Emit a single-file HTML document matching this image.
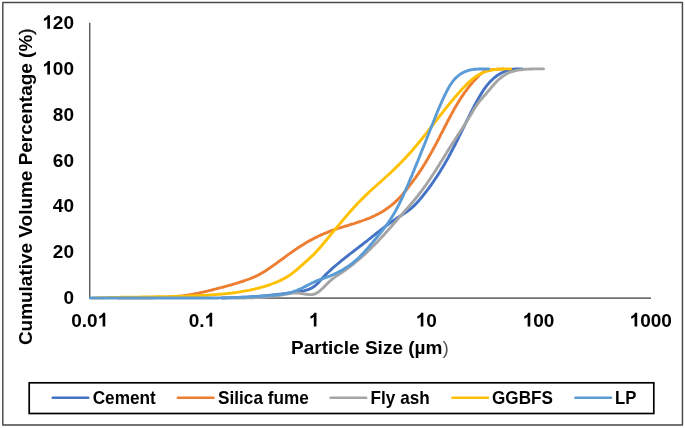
<!DOCTYPE html>
<html><head><meta charset="utf-8"><title>Chart</title>
<style>
html,body{margin:0;padding:0;background:#fff;}
body{width:685px;height:428px;overflow:hidden;}
svg{display:block;will-change:transform;}
text{font-family:"Liberation Sans",sans-serif;font-weight:bold;font-size:19.0px;fill:#000;}
.curves path{fill:none;stroke-width:2.9;stroke-linecap:round;stroke-linejoin:round;}
</style></head><body>
<svg width="685" height="428" viewBox="0 0 685 428">
<rect x="0" y="0" width="685" height="428" fill="#fff"/>
<rect x="2.8" y="2.5" width="679.65" height="422.45" fill="none" stroke="#474747" stroke-width="1.45" stroke-linejoin="round"/>
<line x1="89.73" y1="22.8" x2="89.73" y2="297.6" stroke="#5e5e5e" stroke-width="1.45"/>
<line x1="89.0" y1="298.1" x2="651" y2="298.1" stroke="#707070" stroke-width="1.7"/>
<g class="curves">
<path d="M222.0 298.0 L223.5 298.0 L225.0 298.0 L226.5 297.9 L228.0 297.9 L229.5 297.9 L231.0 297.8 L232.5 297.8 L234.0 297.7 L235.5 297.7 L237.0 297.6 L238.5 297.5 L240.0 297.5 L241.5 297.4 L243.0 297.3 L244.5 297.3 L246.0 297.2 L247.5 297.1 L249.0 297.0 L250.5 296.9 L252.0 296.8 L253.5 296.7 L255.0 296.6 L256.5 296.5 L258.0 296.4 L259.5 296.2 L261.0 296.1 L262.4 296.0 L263.9 295.9 L265.4 295.7 L266.9 295.6 L268.4 295.4 L269.9 295.3 L271.4 295.2 L272.9 295.0 L274.4 294.8 L275.9 294.7 L277.3 294.5 L278.8 294.3 L280.3 294.2 L281.8 294.0 L283.3 293.8 L284.8 293.6 L286.3 293.4 L287.7 293.2 L289.2 293.0 L290.7 292.8 L292.2 292.6 L293.7 292.4 L295.2 292.2 L296.7 291.9 L298.2 291.7 L299.7 291.5 L301.2 291.2 L302.7 291.0 L304.2 290.7 L305.6 290.3 L307.1 289.9 L308.5 289.5 L309.8 288.9 L311.1 288.3 L312.4 287.6 L313.6 286.8 L314.8 286.0 L315.9 285.0 L317.0 284.0 L318.1 282.9 L319.1 281.8 L320.1 280.6 L321.1 279.5 L322.1 278.4 L323.2 277.3 L324.2 276.2 L325.3 275.1 L326.3 274.1 L327.4 273.0 L328.5 272.0 L329.6 271.0 L330.7 269.9 L331.8 268.9 L332.9 267.9 L334.0 266.9 L335.2 266.0 L336.3 265.0 L337.5 264.0 L338.6 263.1 L339.8 262.1 L340.9 261.1 L342.1 260.2 L343.2 259.3 L344.4 258.3 L345.6 257.4 L346.8 256.5 L347.9 255.6 L349.1 254.6 L350.3 253.7 L351.5 252.8 L352.7 251.9 L353.9 251.0 L355.1 250.1 L356.3 249.2 L357.5 248.2 L358.7 247.3 L359.8 246.4 L361.0 245.5 L362.2 244.6 L363.4 243.7 L364.6 242.7 L365.8 241.8 L367.0 240.9 L368.1 240.0 L369.3 239.0 L370.5 238.1 L371.7 237.1 L372.8 236.2 L374.0 235.3 L375.2 234.3 L376.3 233.4 L377.5 232.5 L378.7 231.6 L379.9 230.6 L381.1 229.7 L382.2 228.8 L383.4 227.9 L384.6 227.0 L385.8 226.1 L387.0 225.2 L388.2 224.3 L389.4 223.4 L390.6 222.5 L391.9 221.7 L393.1 220.8 L394.3 220.0 L395.6 219.1 L396.8 218.3 L398.1 217.4 L399.3 216.6 L400.6 215.8 L401.9 215.0 L403.2 214.1 L404.4 213.3 L405.7 212.5 L406.9 211.6 L408.2 210.7 L409.4 209.8 L410.5 208.9 L411.7 207.9 L412.8 206.9 L413.9 205.9 L414.9 204.9 L416.0 203.8 L417.0 202.7 L418.0 201.6 L419.0 200.5 L419.9 199.4 L420.9 198.2 L421.9 197.1 L422.8 195.9 L423.7 194.7 L424.7 193.6 L425.6 192.4 L426.5 191.2 L427.4 190.0 L428.3 188.8 L429.2 187.6 L430.1 186.4 L431.0 185.2 L431.8 183.9 L432.7 182.7 L433.5 181.5 L434.4 180.2 L435.2 179.0 L436.1 177.7 L436.9 176.5 L437.7 175.2 L438.5 173.9 L439.3 172.7 L440.1 171.4 L440.9 170.1 L441.7 168.8 L442.5 167.5 L443.2 166.2 L444.0 164.9 L444.8 163.7 L445.5 162.3 L446.3 161.0 L447.0 159.7 L447.8 158.4 L448.5 157.1 L449.2 155.8 L449.9 154.5 L450.6 153.2 L451.3 151.8 L452.0 150.5 L452.7 149.2 L453.4 147.9 L454.1 146.5 L454.8 145.2 L455.5 143.9 L456.1 142.5 L456.8 141.2 L457.5 139.9 L458.1 138.5 L458.8 137.2 L459.4 135.8 L460.1 134.5 L460.8 133.2 L461.4 131.8 L462.1 130.5 L462.7 129.1 L463.4 127.8 L464.0 126.5 L464.7 125.1 L465.3 123.8 L466.0 122.4 L466.6 121.1 L467.3 119.7 L468.0 118.4 L468.6 117.1 L469.3 115.7 L470.0 114.4 L470.7 113.0 L471.3 111.7 L472.0 110.4 L472.7 109.0 L473.4 107.7 L474.1 106.3 L474.8 105.0 L475.5 103.7 L476.2 102.3 L477.0 101.0 L477.7 99.7 L478.5 98.4 L479.2 97.0 L480.0 95.7 L480.8 94.4 L481.6 93.1 L482.4 91.9 L483.2 90.6 L484.0 89.3 L484.9 88.1 L485.8 86.9 L486.7 85.7 L487.6 84.6 L488.6 83.4 L489.6 82.3 L490.6 81.2 L491.6 80.2 L492.7 79.2 L493.8 78.2 L494.9 77.3 L496.1 76.3 L497.3 75.5 L498.5 74.7 L499.8 73.9 L501.1 73.1 L502.5 72.5 L503.8 71.8 L505.2 71.2 L506.7 70.7 L508.1 70.3 L509.6 69.9 L511.1 69.5 L512.5 69.3 L514.0 69.1 L515.5 69.0 L517.0 68.9 L518.5 68.9 L520.0 68.9 L521.5 68.9 L522.4 68.9" stroke="#4472C4"/>
<path d="M118.0 298.0 L119.5 298.0 L121.0 297.9 L122.5 297.9 L124.0 297.9 L125.5 297.9 L127.0 297.8 L128.5 297.8 L130.0 297.8 L131.5 297.8 L133.0 297.8 L134.5 297.8 L136.0 297.8 L137.5 297.8 L139.0 297.8 L140.5 297.8 L142.0 297.8 L143.5 297.8 L145.0 297.8 L146.5 297.8 L148.0 297.7 L149.5 297.7 L151.0 297.7 L152.5 297.7 L154.0 297.7 L155.5 297.6 L157.0 297.6 L158.5 297.6 L160.0 297.5 L161.5 297.5 L163.0 297.4 L164.5 297.4 L166.0 297.3 L167.5 297.2 L169.0 297.1 L170.5 297.0 L172.0 296.9 L173.5 296.8 L175.0 296.7 L176.5 296.5 L178.0 296.4 L179.5 296.2 L181.0 296.1 L182.5 295.9 L183.9 295.7 L185.4 295.5 L186.9 295.3 L188.4 295.0 L189.9 294.8 L191.3 294.5 L192.8 294.2 L194.3 294.0 L195.7 293.7 L197.2 293.4 L198.7 293.1 L200.1 292.7 L201.6 292.4 L203.1 292.1 L204.5 291.7 L206.0 291.4 L207.4 291.1 L208.9 290.7 L210.4 290.3 L211.8 290.0 L213.3 289.6 L214.7 289.2 L216.2 288.9 L217.6 288.5 L219.1 288.1 L220.5 287.7 L222.0 287.4 L223.4 287.0 L224.9 286.6 L226.3 286.2 L227.8 285.8 L229.2 285.4 L230.7 285.0 L232.1 284.6 L233.6 284.1 L235.0 283.7 L236.4 283.3 L237.9 282.8 L239.3 282.4 L240.7 281.9 L242.1 281.5 L243.6 281.0 L245.0 280.5 L246.4 280.0 L247.8 279.5 L249.2 279.0 L250.6 278.5 L252.0 277.9 L253.4 277.3 L254.8 276.7 L256.1 276.1 L257.5 275.5 L258.8 274.8 L260.1 274.1 L261.4 273.3 L262.7 272.6 L264.0 271.8 L265.3 271.0 L266.5 270.2 L267.8 269.3 L269.0 268.5 L270.3 267.6 L271.5 266.8 L272.7 265.9 L274.0 265.0 L275.2 264.2 L276.4 263.3 L277.6 262.4 L278.8 261.5 L280.0 260.6 L281.3 259.7 L282.5 258.9 L283.7 258.0 L284.9 257.1 L286.1 256.2 L287.3 255.3 L288.5 254.4 L289.7 253.6 L291.0 252.7 L292.2 251.8 L293.4 251.0 L294.6 250.1 L295.9 249.3 L297.1 248.4 L298.4 247.6 L299.6 246.8 L300.9 246.0 L302.1 245.2 L303.4 244.4 L304.7 243.6 L306.0 242.8 L307.3 242.1 L308.6 241.3 L309.9 240.6 L311.2 239.9 L312.5 239.2 L313.8 238.5 L315.1 237.8 L316.5 237.1 L317.8 236.5 L319.2 235.8 L320.5 235.2 L321.9 234.6 L323.3 234.0 L324.6 233.4 L326.0 232.8 L327.4 232.3 L328.8 231.7 L330.2 231.2 L331.6 230.7 L333.0 230.2 L334.5 229.7 L335.9 229.2 L337.3 228.7 L338.7 228.2 L340.2 227.8 L341.6 227.3 L343.0 226.9 L344.5 226.4 L345.9 226.0 L347.4 225.6 L348.8 225.1 L350.2 224.7 L351.7 224.2 L353.1 223.8 L354.6 223.3 L356.0 222.9 L357.4 222.4 L358.8 221.9 L360.3 221.5 L361.7 221.0 L363.1 220.5 L364.5 220.0 L365.9 219.4 L367.3 218.9 L368.7 218.3 L370.1 217.8 L371.4 217.2 L372.8 216.6 L374.2 216.0 L375.5 215.3 L376.8 214.6 L378.2 214.0 L379.5 213.2 L380.8 212.5 L382.1 211.8 L383.4 211.0 L384.6 210.2 L385.9 209.3 L387.1 208.5 L388.3 207.6 L389.5 206.7 L390.7 205.8 L391.9 204.9 L393.1 203.9 L394.2 202.9 L395.3 201.9 L396.4 200.9 L397.5 199.9 L398.5 198.8 L399.6 197.7 L400.6 196.6 L401.6 195.5 L402.6 194.4 L403.5 193.2 L404.5 192.1 L405.5 190.9 L406.4 189.8 L407.3 188.6 L408.3 187.4 L409.2 186.2 L410.1 185.0 L411.0 183.8 L411.9 182.6 L412.8 181.4 L413.7 180.2 L414.6 179.0 L415.5 177.8 L416.3 176.6 L417.2 175.3 L418.0 174.1 L418.9 172.9 L419.7 171.6 L420.6 170.4 L421.4 169.1 L422.2 167.9 L423.0 166.6 L423.8 165.3 L424.6 164.1 L425.4 162.8 L426.1 161.5 L426.9 160.2 L427.7 158.9 L428.4 157.6 L429.2 156.3 L429.9 155.0 L430.6 153.7 L431.4 152.4 L432.1 151.1 L432.8 149.8 L433.5 148.5 L434.3 147.1 L435.0 145.8 L435.7 144.5 L436.4 143.2 L437.1 141.8 L437.8 140.5 L438.5 139.2 L439.2 137.9 L439.8 136.5 L440.5 135.2 L441.2 133.8 L441.9 132.5 L442.6 131.2 L443.3 129.8 L444.0 128.5 L444.6 127.2 L445.3 125.8 L446.0 124.5 L446.7 123.2 L447.4 121.8 L448.1 120.5 L448.8 119.2 L449.5 117.8 L450.2 116.5 L450.9 115.2 L451.6 113.9 L452.3 112.6 L453.1 111.2 L453.8 109.9 L454.5 108.6 L455.3 107.3 L456.0 106.0 L456.8 104.7 L457.5 103.5 L458.3 102.2 L459.1 100.9 L459.9 99.6 L460.7 98.4 L461.5 97.1 L462.3 95.9 L463.2 94.6 L464.0 93.4 L464.9 92.2 L465.8 91.0 L466.7 89.8 L467.6 88.6 L468.5 87.4 L469.4 86.2 L470.4 85.1 L471.3 83.9 L472.3 82.8 L473.3 81.6 L474.3 80.5 L475.4 79.4 L476.4 78.3 L477.4 77.1 L478.4 76.1 L479.5 75.0 L480.6 74.1 L481.8 73.2 L483.0 72.4 L484.3 71.7 L485.7 71.2 L487.1 70.7 L488.5 70.3 L490.0 70.0 L491.5 69.8 L493.0 69.6 L494.6 69.5 L496.1 69.4 L497.6 69.3 L499.1 69.2 L500.6 69.1 L502.1 69.0 L503.0 68.9" stroke="#ED7D31"/>
<path d="M236.0 298.0 L237.5 298.0 L239.0 298.0 L240.5 298.0 L242.0 298.0 L243.5 298.0 L245.0 298.0 L246.5 297.9 L248.0 297.9 L249.5 297.9 L251.0 297.8 L252.5 297.8 L254.0 297.7 L255.5 297.6 L257.0 297.6 L258.5 297.5 L260.0 297.4 L261.5 297.3 L263.0 297.2 L264.5 297.1 L266.0 296.9 L267.5 296.8 L269.0 296.6 L270.5 296.5 L271.9 296.3 L273.4 296.1 L274.9 296.0 L276.4 295.8 L277.9 295.6 L279.4 295.3 L280.9 295.1 L282.4 294.9 L283.8 294.6 L285.3 294.3 L286.8 294.1 L288.3 293.8 L289.8 293.5 L291.2 293.3 L292.7 293.1 L294.2 293.0 L295.7 293.0 L297.1 293.0 L298.6 293.1 L300.1 293.3 L301.6 293.5 L303.0 293.7 L304.5 294.0 L306.0 294.2 L307.5 294.4 L309.0 294.5 L310.5 294.6 L312.0 294.5 L313.5 294.3 L314.5 294.1 L315.9 293.4 L317.2 292.7 L318.5 291.9 L319.7 291.0 L320.8 290.0 L321.9 289.0 L323.0 288.0 L324.1 286.9 L325.1 285.8 L326.1 284.8 L327.2 283.7 L328.3 282.6 L329.4 281.6 L330.5 280.6 L331.6 279.7 L332.8 278.7 L334.0 277.8 L335.2 276.9 L336.4 276.1 L337.7 275.2 L338.9 274.4 L340.2 273.5 L341.4 272.7 L342.7 271.9 L343.9 271.0 L345.1 270.2 L346.4 269.3 L347.6 268.4 L348.8 267.5 L350.0 266.6 L351.2 265.7 L352.4 264.8 L353.5 263.9 L354.7 262.9 L355.8 262.0 L357.0 261.0 L358.1 260.1 L359.3 259.1 L360.4 258.1 L361.5 257.1 L362.6 256.1 L363.8 255.1 L364.9 254.1 L366.0 253.1 L367.0 252.1 L368.1 251.0 L369.2 250.0 L370.3 248.9 L371.3 247.9 L372.4 246.8 L373.5 245.8 L374.5 244.7 L375.6 243.6 L376.6 242.6 L377.7 241.5 L378.7 240.4 L379.7 239.3 L380.7 238.2 L381.8 237.1 L382.8 236.0 L383.8 234.9 L384.8 233.8 L385.8 232.7 L386.8 231.6 L387.8 230.5 L388.8 229.3 L389.8 228.2 L390.8 227.1 L391.8 226.0 L392.8 224.8 L393.8 223.7 L394.8 222.6 L395.8 221.5 L396.8 220.3 L397.7 219.2 L398.7 218.1 L399.7 216.9 L400.7 215.8 L401.7 214.7 L402.7 213.5 L403.6 212.4 L404.6 211.3 L405.6 210.1 L406.6 209.0 L407.6 207.9 L408.6 206.8 L409.6 205.6 L410.6 204.5 L411.5 203.4 L412.5 202.2 L413.5 201.1 L414.4 200.0 L415.4 198.8 L416.3 197.6 L417.3 196.5 L418.2 195.3 L419.1 194.1 L420.0 192.9 L421.0 191.7 L421.9 190.5 L422.7 189.3 L423.6 188.1 L424.5 186.9 L425.4 185.7 L426.2 184.5 L427.1 183.2 L428.0 182.0 L428.8 180.8 L429.6 179.5 L430.5 178.3 L431.3 177.0 L432.1 175.8 L433.0 174.5 L433.8 173.3 L434.6 172.0 L435.4 170.7 L436.2 169.5 L437.0 168.2 L437.8 166.9 L438.6 165.7 L439.4 164.4 L440.2 163.1 L441.0 161.8 L441.8 160.6 L442.6 159.3 L443.4 158.0 L444.2 156.7 L444.9 155.5 L445.7 154.2 L446.5 152.9 L447.3 151.6 L448.1 150.4 L448.9 149.1 L449.7 147.8 L450.5 146.5 L451.3 145.3 L452.1 144.0 L452.9 142.7 L453.7 141.5 L454.5 140.2 L455.3 139.0 L456.1 137.7 L456.9 136.5 L457.7 135.2 L458.6 133.9 L459.4 132.7 L460.2 131.5 L461.1 130.2 L461.9 129.0 L462.7 127.7 L463.5 126.4 L464.4 125.2 L465.2 123.9 L466.0 122.7 L466.8 121.4 L467.6 120.1 L468.4 118.8 L469.1 117.6 L469.9 116.3 L470.7 115.0 L471.4 113.7 L472.2 112.4 L473.0 111.1 L473.7 109.8 L474.5 108.5 L475.3 107.3 L476.1 106.0 L477.0 104.8 L477.8 103.6 L478.7 102.4 L479.6 101.2 L480.5 100.0 L481.5 98.9 L482.5 97.7 L483.5 96.6 L484.5 95.5 L485.5 94.4 L486.5 93.2 L487.4 92.1 L488.4 90.9 L489.4 89.8 L490.4 88.6 L491.3 87.5 L492.3 86.3 L493.3 85.2 L494.3 84.1 L495.3 83.0 L496.3 81.9 L497.4 80.8 L498.5 79.8 L499.6 78.8 L500.8 77.8 L501.9 76.9 L503.1 76.0 L504.4 75.2 L505.6 74.4 L506.9 73.7 L508.2 73.0 L509.6 72.4 L511.0 71.9 L512.4 71.5 L513.9 71.1 L515.4 70.7 L516.8 70.4 L518.3 70.1 L519.8 69.9 L521.3 69.7 L522.8 69.5 L524.3 69.4 L525.8 69.2 L527.3 69.1 L528.8 69.1 L530.3 69.0 L531.8 69.0 L533.3 68.9 L534.8 68.9 L536.3 68.9 L537.8 68.9 L539.3 68.9 L540.8 68.9 L542.3 68.9 L543.5 68.9" stroke="#A5A5A5"/>
<path d="M93.0 298.0 L94.5 297.9 L96.0 297.9 L97.5 297.9 L99.0 297.8 L100.5 297.8 L102.0 297.7 L103.5 297.7 L105.0 297.6 L106.5 297.6 L108.0 297.6 L109.5 297.5 L111.0 297.5 L112.5 297.5 L114.0 297.4 L115.5 297.4 L117.0 297.4 L118.5 297.4 L120.0 297.3 L121.5 297.3 L123.0 297.3 L124.5 297.3 L126.0 297.2 L127.5 297.2 L129.0 297.2 L130.5 297.2 L132.0 297.2 L133.5 297.1 L135.0 297.1 L136.5 297.1 L138.0 297.1 L139.5 297.1 L141.0 297.0 L142.5 297.0 L144.0 297.0 L145.5 297.0 L147.0 297.0 L148.5 296.9 L150.0 296.9 L151.5 296.9 L153.0 296.9 L154.5 296.8 L156.0 296.8 L157.5 296.8 L159.0 296.8 L160.5 296.7 L162.0 296.7 L163.5 296.7 L165.0 296.7 L166.5 296.6 L168.0 296.6 L169.5 296.6 L171.0 296.5 L172.5 296.5 L174.0 296.5 L175.5 296.4 L177.0 296.4 L178.5 296.3 L180.0 296.3 L181.5 296.3 L183.0 296.2 L184.5 296.2 L186.0 296.1 L187.5 296.1 L189.0 296.0 L190.5 295.9 L192.0 295.9 L193.5 295.8 L195.0 295.8 L196.5 295.7 L198.0 295.6 L199.5 295.6 L201.0 295.5 L202.5 295.4 L204.0 295.3 L205.5 295.2 L207.0 295.2 L208.5 295.1 L210.0 295.0 L211.5 294.9 L212.9 294.8 L214.4 294.7 L215.9 294.6 L217.4 294.4 L218.9 294.3 L220.4 294.2 L221.9 294.1 L223.4 293.9 L224.9 293.8 L226.4 293.6 L227.9 293.5 L229.4 293.3 L230.9 293.1 L232.3 293.0 L233.8 292.8 L235.3 292.6 L236.8 292.4 L238.3 292.1 L239.8 291.9 L241.2 291.7 L242.7 291.4 L244.2 291.2 L245.7 290.9 L247.1 290.6 L248.6 290.4 L250.1 290.1 L251.5 289.7 L253.0 289.4 L254.5 289.1 L255.9 288.7 L257.4 288.4 L258.9 288.0 L260.3 287.6 L261.8 287.2 L263.2 286.8 L264.7 286.4 L266.1 285.9 L267.5 285.5 L269.0 285.0 L270.4 284.5 L271.8 284.0 L273.2 283.5 L274.6 282.9 L276.0 282.4 L277.4 281.8 L278.7 281.2 L280.1 280.6 L281.4 279.9 L282.8 279.2 L284.1 278.6 L285.4 277.8 L286.7 277.1 L287.9 276.3 L289.2 275.5 L290.4 274.6 L291.6 273.8 L292.8 272.9 L294.0 272.0 L295.1 271.0 L296.3 270.1 L297.4 269.1 L298.6 268.1 L299.7 267.1 L300.9 266.1 L302.0 265.1 L303.1 264.1 L304.2 263.1 L305.3 262.1 L306.5 261.1 L307.6 260.1 L308.7 259.0 L309.8 258.0 L310.9 257.0 L312.0 256.0 L313.1 255.0 L314.1 253.9 L315.2 252.8 L316.2 251.7 L317.2 250.7 L318.2 249.5 L319.2 248.4 L320.2 247.3 L321.2 246.2 L322.2 245.0 L323.1 243.9 L324.1 242.7 L325.0 241.6 L326.0 240.4 L327.0 239.3 L327.9 238.1 L328.9 237.0 L329.8 235.8 L330.8 234.6 L331.7 233.5 L332.7 232.3 L333.6 231.2 L334.6 230.0 L335.5 228.9 L336.5 227.7 L337.5 226.6 L338.4 225.4 L339.4 224.3 L340.4 223.1 L341.3 222.0 L342.3 220.8 L343.3 219.7 L344.2 218.5 L345.2 217.4 L346.2 216.2 L347.2 215.1 L348.2 214.0 L349.1 212.8 L350.1 211.7 L351.1 210.6 L352.1 209.5 L353.1 208.4 L354.1 207.2 L355.2 206.1 L356.2 205.0 L357.2 203.9 L358.2 202.8 L359.3 201.8 L360.3 200.7 L361.4 199.6 L362.4 198.6 L363.5 197.5 L364.5 196.5 L365.6 195.4 L366.7 194.4 L367.8 193.4 L368.9 192.3 L370.0 191.3 L371.1 190.3 L372.2 189.3 L373.3 188.3 L374.4 187.3 L375.6 186.3 L376.7 185.3 L377.8 184.3 L378.9 183.3 L380.0 182.3 L381.2 181.3 L382.3 180.3 L383.4 179.3 L384.5 178.3 L385.6 177.3 L386.7 176.3 L387.8 175.3 L388.9 174.3 L390.0 173.2 L391.1 172.2 L392.2 171.2 L393.3 170.1 L394.4 169.1 L395.5 168.0 L396.5 167.0 L397.6 165.9 L398.7 164.9 L399.7 163.8 L400.8 162.7 L401.8 161.7 L402.9 160.6 L403.9 159.5 L404.9 158.4 L406.0 157.3 L407.0 156.2 L408.0 155.1 L409.0 154.0 L410.0 152.9 L411.0 151.8 L412.0 150.7 L413.0 149.5 L414.0 148.4 L414.9 147.2 L415.9 146.1 L416.9 144.9 L417.8 143.8 L418.8 142.6 L419.7 141.5 L420.7 140.3 L421.6 139.2 L422.6 138.0 L423.5 136.8 L424.4 135.6 L425.4 134.5 L426.3 133.3 L427.2 132.1 L428.2 130.9 L429.1 129.7 L430.0 128.6 L430.9 127.4 L431.8 126.2 L432.8 125.0 L433.7 123.8 L434.6 122.6 L435.5 121.5 L436.4 120.3 L437.4 119.1 L438.3 117.9 L439.2 116.7 L440.1 115.5 L441.0 114.4 L442.0 113.2 L442.9 112.0 L443.8 110.8 L444.8 109.6 L445.7 108.5 L446.6 107.3 L447.6 106.1 L448.5 105.0 L449.4 103.8 L450.4 102.7 L451.3 101.5 L452.3 100.4 L453.3 99.2 L454.2 98.1 L455.2 96.9 L456.2 95.8 L457.2 94.7 L458.2 93.6 L459.2 92.4 L460.2 91.3 L461.2 90.2 L462.2 89.1 L463.2 88.0 L464.3 86.9 L465.3 85.8 L466.4 84.7 L467.4 83.6 L468.5 82.6 L469.6 81.5 L470.7 80.5 L471.9 79.6 L473.0 78.6 L474.2 77.7 L475.4 76.8 L476.6 76.0 L477.9 75.2 L479.2 74.4 L480.5 73.7 L481.8 73.1 L483.2 72.5 L484.6 72.0 L486.0 71.5 L487.4 71.0 L488.9 70.6 L490.3 70.3 L491.8 70.0 L493.3 69.7 L494.8 69.5 L496.3 69.4 L497.8 69.2 L499.3 69.1 L500.8 69.1 L502.3 69.0 L503.8 69.0 L505.3 68.9 L506.8 68.9 L508.3 68.9 L509.8 68.9 L510.6 68.9" stroke="#FFC000"/>
<path d="M90.6 298.0 L92.1 298.0 L93.6 298.0 L95.1 298.0 L96.6 298.0 L98.1 298.0 L99.6 298.0 L101.1 298.0 L102.6 298.0 L104.1 298.0 L105.6 298.0 L107.1 298.0 L108.6 298.0 L110.1 298.0 L111.6 298.0 L113.1 298.0 L114.6 298.0 L116.1 298.0 L117.6 298.0 L119.1 298.0 L120.6 298.0 L122.1 298.0 L123.6 298.0 L125.1 298.0 L126.6 298.0 L128.1 298.0 L129.6 298.0 L131.1 298.0 L132.6 298.0 L134.1 298.0 L135.6 298.0 L137.1 298.0 L138.6 298.0 L140.1 298.0 L141.6 298.0 L143.1 298.0 L144.6 298.0 L146.1 298.0 L147.6 298.0 L149.1 298.0 L150.6 298.0 L152.1 298.0 L153.6 298.0 L155.1 298.0 L156.6 298.0 L158.1 298.0 L159.6 298.0 L161.1 298.0 L162.6 298.0 L164.1 298.0 L165.6 298.0 L167.1 298.0 L168.6 298.0 L170.1 298.0 L171.6 298.0 L173.1 298.0 L174.6 298.0 L176.1 298.0 L177.6 298.0 L179.1 298.0 L180.6 298.0 L182.1 298.0 L183.6 298.0 L185.1 298.0 L186.6 298.0 L188.1 298.0 L189.6 298.0 L191.1 298.0 L192.6 298.0 L194.1 298.0 L195.6 298.0 L197.1 298.0 L198.6 298.0 L200.1 298.0 L201.6 298.0 L203.1 298.0 L204.6 298.0 L206.1 298.0 L207.6 298.0 L209.1 298.0 L210.6 298.0 L212.1 298.0 L213.6 298.0 L215.1 298.0 L216.6 298.0 L218.1 298.0 L219.6 297.9 L221.1 297.9 L222.6 297.9 L224.1 297.8 L225.6 297.8 L227.1 297.8 L228.6 297.7 L230.1 297.7 L231.6 297.6 L233.0 297.6 L234.5 297.5 L236.0 297.5 L237.5 297.4 L239.0 297.4 L240.5 297.3 L242.0 297.3 L243.5 297.2 L245.0 297.1 L246.5 297.1 L248.0 297.0 L249.5 296.9 L251.0 296.8 L252.5 296.7 L254.0 296.6 L255.5 296.6 L257.0 296.5 L258.5 296.4 L260.0 296.3 L261.5 296.2 L263.0 296.0 L264.5 295.9 L266.0 295.8 L267.5 295.7 L269.0 295.6 L270.5 295.4 L272.0 295.3 L273.5 295.2 L275.0 295.0 L276.5 294.9 L278.0 294.7 L279.5 294.5 L281.0 294.4 L282.5 294.1 L284.0 293.9 L285.5 293.6 L286.9 293.4 L288.4 293.0 L289.8 292.7 L291.2 292.3 L292.7 291.9 L294.1 291.4 L295.5 290.9 L296.9 290.4 L298.2 289.8 L299.6 289.2 L301.0 288.6 L302.3 288.0 L303.7 287.3 L305.0 286.6 L306.4 285.9 L307.7 285.2 L309.0 284.5 L310.4 283.8 L311.7 283.2 L313.1 282.5 L314.4 281.9 L315.8 281.3 L317.2 280.7 L318.6 280.2 L320.0 279.7 L321.4 279.2 L322.8 278.7 L324.2 278.2 L325.6 277.7 L327.1 277.2 L328.5 276.6 L329.8 276.1 L331.2 275.5 L332.6 274.9 L334.0 274.3 L335.3 273.6 L336.7 273.0 L338.0 272.3 L339.4 271.6 L340.7 270.9 L342.0 270.2 L343.3 269.4 L344.6 268.6 L345.8 267.8 L347.1 267.0 L348.3 266.2 L349.5 265.3 L350.7 264.5 L351.9 263.6 L353.1 262.6 L354.2 261.7 L355.4 260.7 L356.5 259.7 L357.6 258.7 L358.7 257.7 L359.8 256.7 L360.8 255.6 L361.9 254.5 L362.9 253.5 L364.0 252.4 L365.0 251.3 L366.0 250.1 L367.0 249.0 L368.0 247.9 L369.0 246.7 L370.0 245.6 L370.9 244.4 L371.9 243.3 L372.9 242.1 L373.8 241.0 L374.8 239.8 L375.8 238.7 L376.7 237.5 L377.7 236.3 L378.6 235.2 L379.6 234.0 L380.5 232.8 L381.5 231.6 L382.4 230.5 L383.3 229.3 L384.2 228.1 L385.1 226.9 L386.0 225.7 L386.9 224.5 L387.7 223.3 L388.6 222.1 L389.4 220.8 L390.3 219.6 L391.1 218.3 L391.9 217.1 L392.7 215.8 L393.5 214.5 L394.2 213.3 L395.0 212.0 L395.7 210.7 L396.4 209.4 L397.1 208.0 L397.8 206.7 L398.5 205.4 L399.2 204.0 L399.8 202.7 L400.5 201.4 L401.1 200.0 L401.8 198.6 L402.4 197.3 L403.0 195.9 L403.7 194.5 L404.3 193.2 L404.9 191.8 L405.5 190.4 L406.1 189.0 L406.7 187.6 L407.3 186.3 L407.9 184.9 L408.5 183.5 L409.0 182.1 L409.6 180.7 L410.2 179.3 L410.8 177.9 L411.4 176.6 L412.0 175.2 L412.5 173.8 L413.1 172.4 L413.7 171.0 L414.3 169.6 L414.8 168.2 L415.4 166.8 L416.0 165.4 L416.5 164.0 L417.1 162.7 L417.7 161.3 L418.2 159.9 L418.8 158.5 L419.4 157.1 L419.9 155.7 L420.5 154.3 L421.0 152.9 L421.6 151.5 L422.1 150.1 L422.7 148.7 L423.3 147.3 L423.8 145.9 L424.4 144.5 L424.9 143.2 L425.5 141.8 L426.0 140.4 L426.6 139.0 L427.1 137.6 L427.7 136.2 L428.2 134.8 L428.8 133.4 L429.3 132.0 L429.9 130.6 L430.4 129.3 L431.0 127.9 L431.5 126.5 L432.1 125.1 L432.6 123.7 L433.2 122.3 L433.7 120.9 L434.3 119.6 L434.8 118.2 L435.4 116.8 L435.9 115.4 L436.5 114.0 L437.1 112.6 L437.6 111.3 L438.2 109.9 L438.8 108.5 L439.4 107.1 L440.0 105.7 L440.6 104.4 L441.2 103.0 L441.8 101.6 L442.4 100.2 L443.1 98.9 L443.7 97.5 L444.3 96.1 L445.0 94.7 L445.7 93.4 L446.4 92.0 L447.1 90.6 L447.8 89.3 L448.5 87.9 L449.3 86.6 L450.1 85.3 L450.9 84.0 L451.8 82.8 L452.6 81.6 L453.6 80.4 L454.5 79.3 L455.5 78.2 L456.5 77.2 L457.6 76.2 L458.8 75.3 L459.9 74.4 L461.2 73.6 L462.5 72.9 L463.8 72.2 L465.1 71.6 L466.5 71.1 L468.0 70.6 L469.4 70.2 L470.9 69.8 L472.4 69.6 L473.9 69.3 L475.4 69.2 L476.9 69.1 L478.4 69.0 L479.9 69.0 L481.4 69.0 L482.9 69.0 L484.5 69.0 L485.9 69.0 L487.4 68.9 L488.6 68.9" stroke="#5B9BD5"/>
</g>
<g>
<text x="63.44" y="303.9">0</text>
<text x="52.87" y="258.1">20</text>
<text x="52.87" y="212.3">40</text>
<text x="52.87" y="166.5">60</text>
<text x="52.87" y="120.7">80</text>
<path d="M49.95 74.60 L47.30 74.60 L47.30 64.78 Q45.88 66.11 43.94 66.75 L43.94 64.38 Q44.97 64.05 46.16 63.12 Q47.36 62.19 47.80 60.94 L49.95 60.94 Z" fill="#000"/><text x="52.87" y="74.9">00</text>
<path d="M49.95 28.80 L47.30 28.80 L47.30 18.98 Q45.88 20.31 43.94 20.95 L43.94 18.58 Q44.97 18.26 46.16 17.32 Q47.36 16.39 47.80 15.14 L49.95 15.14 Z" fill="#000"/><text x="52.87" y="29.1">20</text>
<text x="71.21" y="326.8">0.0</text><path d="M105.26 326.50 L102.62 326.50 L102.62 316.68 Q101.19 318.01 99.26 318.65 L99.26 316.28 Q100.28 315.95 101.48 315.02 Q102.68 314.09 103.11 312.84 L105.26 312.84 Z" fill="#000"/>
<text x="188.69" y="326.8">0.</text><path d="M212.18 326.50 L209.54 326.50 L209.54 316.68 Q208.11 318.01 206.17 318.65 L206.17 316.28 Q207.20 315.95 208.40 315.02 Q209.59 314.09 210.03 312.84 L212.18 312.84 Z" fill="#000"/>
<path d="M316.46 326.50 L313.81 326.50 L313.81 316.68 Q312.39 318.01 310.45 318.65 L310.45 316.28 Q311.48 315.95 312.68 315.02 Q313.87 314.09 314.31 312.84 L316.46 312.84 Z" fill="#000"/>
<path d="M423.37 326.50 L420.73 326.50 L420.73 316.68 Q419.31 318.01 417.37 318.65 L417.37 316.28 Q418.40 315.95 419.59 315.02 Q420.79 314.09 421.23 312.84 L423.37 312.84 Z" fill="#000"/><text x="426.30" y="326.8">0</text>
<path d="M530.29 326.50 L527.65 326.50 L527.65 316.68 Q526.23 318.01 524.29 318.65 L524.29 316.28 Q525.31 315.95 526.51 315.02 Q527.71 314.09 528.14 312.84 L530.29 312.84 Z" fill="#000"/><text x="533.22" y="326.8">00</text>
<path d="M637.21 326.50 L634.57 326.50 L634.57 316.68 Q633.14 318.01 631.21 318.65 L631.21 316.28 Q632.23 315.95 633.43 315.02 Q634.63 314.09 635.06 312.84 L637.21 312.84 Z" fill="#000"/><text x="640.14" y="326.8">000</text>
</g>
<text x="291" y="354.4">Particle Size (µm<tspan font-weight="normal" fill="#555">)</tspan></text>
<text transform="translate(31.8,345.1) rotate(-90)" style="font-size:18.97px">Cumulative Volume Percentage (%<tspan font-weight="normal" fill="#111" stroke="#111" stroke-width="0.45">)</tspan></text>
<rect x="29.2" y="382.8" width="624.6" height="30.7" fill="#fff" stroke="#000" stroke-width="1.7"/>
<line x1="52.7" y1="397.7" x2="88.3" y2="397.7" stroke="#4472C4" stroke-width="2.5" stroke-linecap="round"/>
<text x="92.7" y="403.9" textLength="63.1" lengthAdjust="spacingAndGlyphs">Cement</text>
<line x1="177.9" y1="397.7" x2="213.5" y2="397.7" stroke="#ED7D31" stroke-width="2.5" stroke-linecap="round"/>
<text x="218.1" y="403.9" textLength="90.6" lengthAdjust="spacingAndGlyphs">Silica fume</text>
<line x1="330.6" y1="397.7" x2="366.2" y2="397.7" stroke="#A5A5A5" stroke-width="2.5" stroke-linecap="round"/>
<text x="370.6" y="403.9" textLength="59.1" lengthAdjust="spacingAndGlyphs">Fly ash</text>
<line x1="452.4" y1="397.7" x2="488.0" y2="397.7" stroke="#FFC000" stroke-width="2.5" stroke-linecap="round"/>
<text x="492.0" y="403.9" textLength="60.9" lengthAdjust="spacingAndGlyphs">GGBFS</text>
<line x1="575.4" y1="397.7" x2="611.0" y2="397.7" stroke="#5B9BD5" stroke-width="2.5" stroke-linecap="round"/>
<text x="615.0" y="403.9" textLength="21.4" lengthAdjust="spacingAndGlyphs">LP</text>
</svg>
</body></html>
